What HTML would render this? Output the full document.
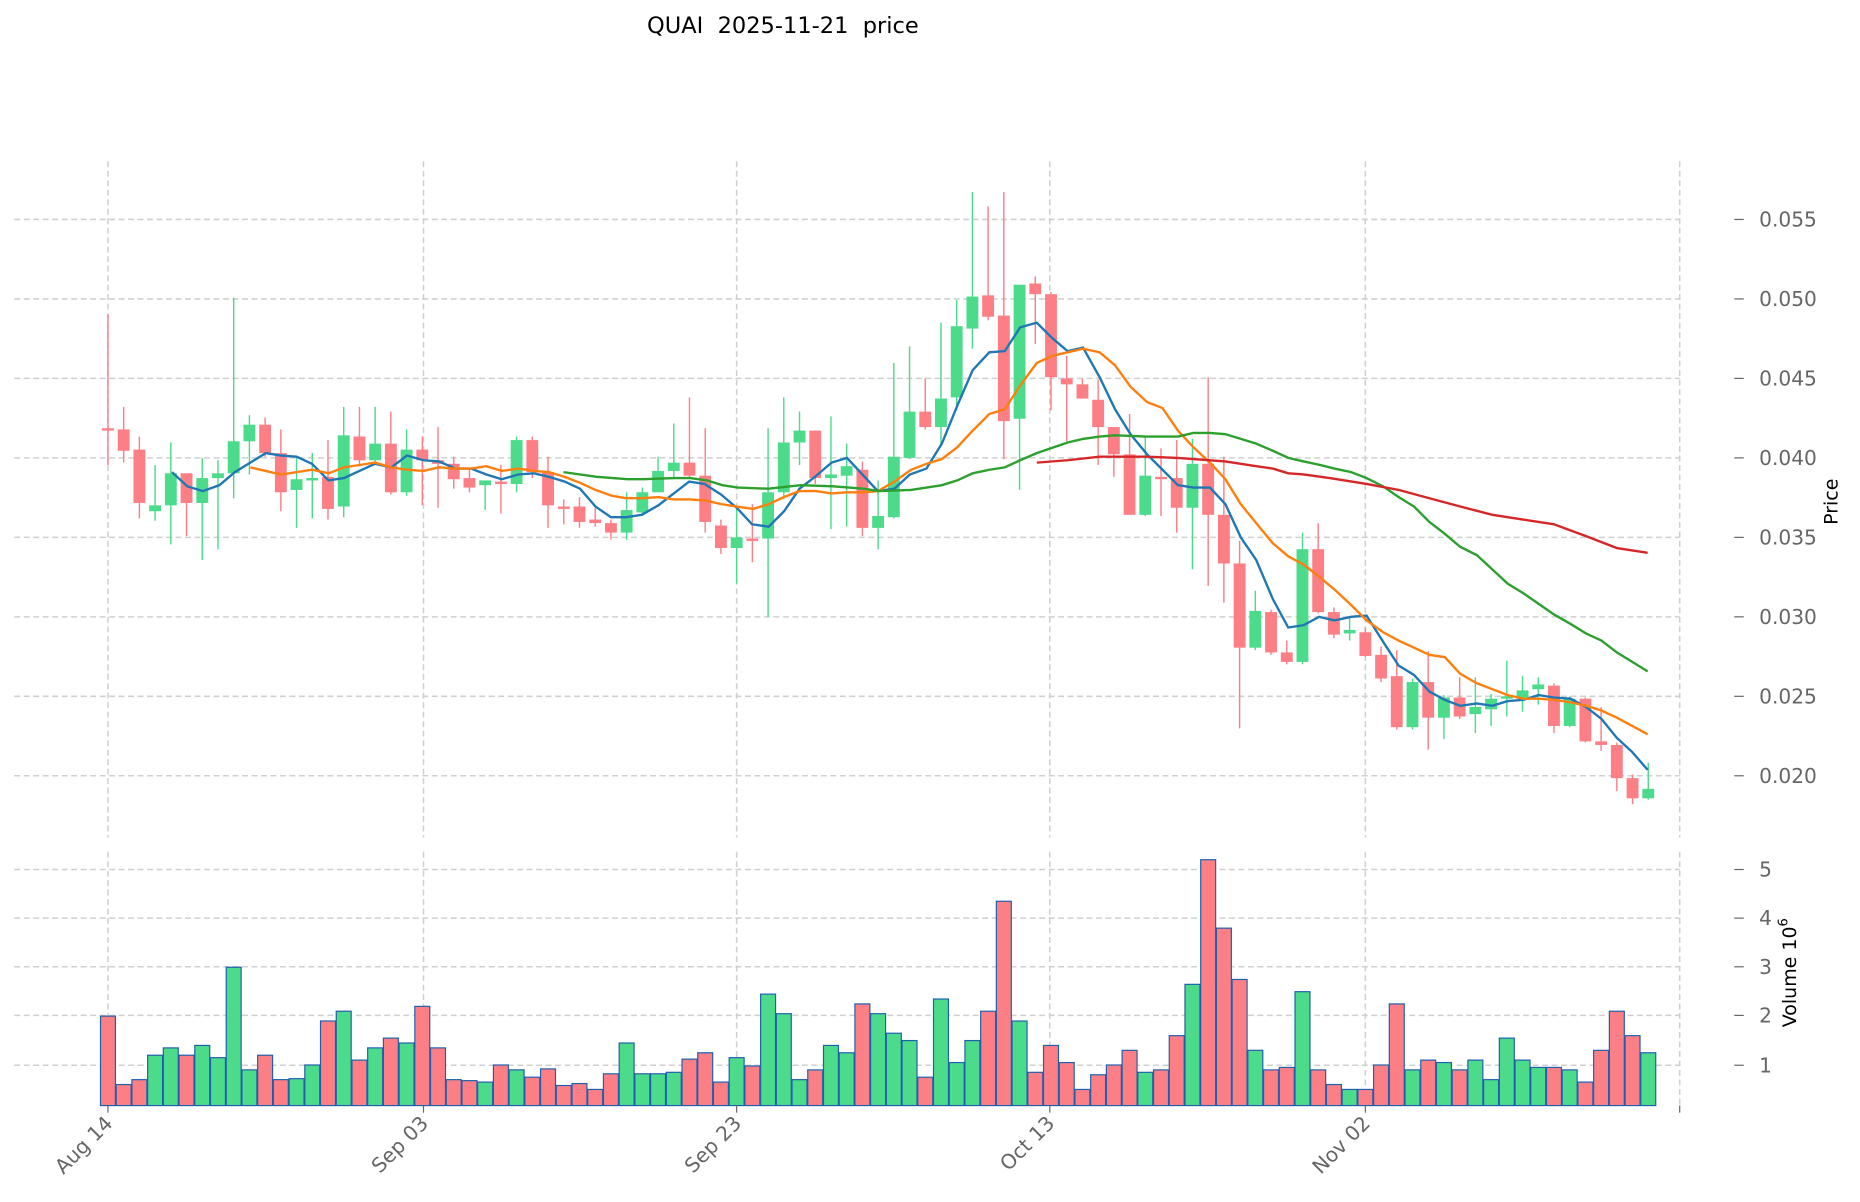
<!DOCTYPE html>
<html><head><meta charset="utf-8"><style>
html,body{margin:0;padding:0;background:#fff;}
svg{display:block;font-family:"DejaVu Sans","Liberation Sans",sans-serif;}
</style></head><body>
<svg id="c" width="1860" height="1202" viewBox="0 0 1568 1013.3" preserveAspectRatio="none" xmlns="http://www.w3.org/2000/svg">
<text x="660" y="28" font-size="19" text-anchor="middle" fill="#000" xml:space="preserve" style="white-space:pre">QUAI  2025-11-21  price</text>
<g id="grid" stroke="#d0d0d0" stroke-width="1.3" stroke-dasharray="5,3" fill="none"></g>
<g id="vol"></g>
<g id="cand"></g>
<g id="ma" fill="none" stroke-width="2"></g>
<g id="ax" font-size="17" fill="#666"></g>
<text transform="translate(1549,423) rotate(-90)" font-size="16" text-anchor="middle" fill="#000">Price</text>
<text transform="translate(1514,820) rotate(-90)" font-size="16" text-anchor="middle" fill="#000">Volume  10<tspan dy="-7" font-size="11">6</tspan></text>
</svg>
<script>
var NS="http://www.w3.org/2000/svg";
function el(p,t,a,txt){var e=document.createElementNS(NS,t);for(var k in a)e.setAttribute(k,a[k]);if(txt!=null)e.textContent=txt;document.getElementById(p).appendChild(e);return e;}
var py={"0.055":185,"0.050":252,"0.045":319,"0.040":386,"0.035":453,"0.030":520,"0.025":587,"0.020":654};
for(var k in py){el("grid","line",{x1:12,x2:1416,y1:py[k],y2:py[k]});el("ax","line",{x1:1462,x2:1470,y1:py[k],y2:py[k],stroke:"#666"});el("ax","text",{x:1483,y:py[k]+6},k);}
var vy={"5":733,"4":774,"3":815,"2":856,"1":898};
for(var k in vy){el("grid","line",{x1:12,x2:1416,y1:vy[k],y2:vy[k]});el("ax","line",{x1:1462,x2:1470,y1:vy[k],y2:vy[k],stroke:"#666"});el("ax","text",{x:1483,y:vy[k]+6},k);}
var xs=[[91,"Aug 14"],[357,"Sep 03"],[621,"Sep 23"],[885,"Oct 13"],[1151,"Nov 02"]];
xs.forEach(function(d){el("grid","line",{x1:d[0],x2:d[0],y1:136,y2:706});el("grid","line",{x1:d[0],x2:d[0],y1:718,y2:932});
el("ax","line",{x1:d[0],x2:d[0],y1:932,y2:938,stroke:"#666"});
el("ax","text",{x:0,y:0,"text-anchor":"end",transform:"translate("+(d[0]+5)+",948) rotate(-45)"},d[1]);});
el("grid","line",{x1:1416,x2:1416,y1:136,y2:706});el("grid","line",{x1:1416,x2:1416,y1:718,y2:932});
el("ax","line",{x1:1416,x2:1416,y1:932,y2:938,stroke:"#666"});
var C=[[361,362,265,392],[362,380,343,390],[379,424,368,437],[431,426,392,439],[426,399,373,459],[399,424,399,452],[424,403,386,472],[403,399,388,463],[399,372,251,420],[372,358,350,400],[358,382,352,385],[382,415,362,431],[413,404,386,445],[404,403,382,437],[402,429,371,438],[427,367,343,436],[368,388,343,393],[388,374,343,390],[374,415,347,417],[415,379,362,418],[379,388,368,426],[388,391,360,428],[391,404,385,412],[403,411,395,415],[409,405,406,430],[406,408,392,433],[408,371,368,415],[371,398,368,403],[398,426,385,445],[427,428,421,442],[427,440,419,445],[438,441,428,444],[441,449,438,455],[449,430,415,455],[432,415,411,435],[415,397,385,415],[397,390,357,404],[390,401,335,402],[401,440,361,449],[443,462,438,467],[462,453,427,492],[454,455,425,474],[454,415,361,520],[415,373,335,421],[373,363,347,392],[363,403,363,408],[403,400,351,446],[401,393,374,444],[396,445,389,452],[445,435,405,463],[436,385,306,437],[386,347,292,387],[347,360,319,362],[360,336,272,376],[335,275,253,346],[277,250,162,294],[249,267,174,270],[266,355,162,387],[353,240,240,413],[239,248,233,290],[248,318,246,346],[319,324,300,372],[324,336,319,336],[337,360,320,392],[360,383,360,402],[383,434,349,434],[434,401,367,435],[402,403,378,435],[403,428,371,449],[428,391,370,480],[391,434,318,494],[434,475,385,508],[475,546,456,614],[546,515,498,548],[516,550,514,552],[550,558,540,560],[558,463,449,560],[463,516,441,517],[516,535,512,538],[534,531,521,540],[533,553,529,554],[552,572,545,575],[570,613,548,615],[613,575,572,615],[575,605,549,632],[605,588,586,623],[588,604,571,606],[602,596,571,618],[598,589,585,612],[589,587,557,604],[589,582,570,600],[581,577,571,594],[578,612,576,618],[612,589,587,613],[589,625,588,626],[625,628,596,633],[628,656,626,667],[656,673,653,678],[673,665,643,674]];
var V=[2.0,0.6,0.7,1.2,1.35,1.2,1.4,1.15,3.0,0.9,1.2,0.7,0.72,1.0,1.9,2.1,1.1,1.35,1.55,1.45,2.2,1.35,0.7,0.68,0.65,1.0,0.9,0.75,0.92,0.58,0.62,0.5,0.82,1.45,0.82,0.82,0.85,1.12,1.25,0.65,1.15,0.98,2.45,2.05,0.7,0.9,1.4,1.25,2.25,2.05,1.65,1.5,0.75,2.35,1.05,1.5,2.1,4.35,1.9,0.85,1.4,1.05,0.5,0.8,1.0,1.3,0.85,0.9,1.6,2.65,5.2,3.8,2.75,1.3,0.9,0.95,2.5,0.9,0.6,0.5,0.5,1.0,2.25,0.9,1.1,1.05,0.9,1.1,0.7,1.55,1.1,0.95,0.95,0.9,0.65,1.3,2.1,1.6,1.25];
var G="#4cdb8a",R="#fc7f86";
C.forEach(function(c,i){var x=91+13.25*i;var up=c[1]<c[0];var col=up?G:R;
var hi=Math.min(c[2],c[0],c[1]),lo=Math.max(c[3],c[0],c[1]);
el("cand","line",{x1:x,x2:x,y1:hi,y2:lo,stroke:col,"stroke-width":1.2});
var t=Math.min(c[0],c[1]),h=Math.max(Math.abs(c[1]-c[0]),2);
el("cand","rect",{x:x-5,y:t,width:10,height:h,fill:col});
var v=V[i]||0;var vh=v*41.2;
el("vol","rect",{x:x-6.3,y:939-vh,width:12.6,height:Math.max(vh-7,0),fill:col,stroke:"#1f5fb0","stroke-width":1});
});
function pl(pts,col){el("ma","polyline",{points:pts,stroke:col});}
pl("145,398 158,410 171,414 185,409 198,398 211,390 224,382 237,384 250,385 263,391 277,405 290,403 303,397 316,391 330,394 343,384 357,388 370,389 384,395 397,395 410,400 423,404 437,400 450,399 463,402 476,406 489,412 502,427 515,436 528,436 541,434 555,426 568,416 581,406 594,408 608,417 621,428 634,442 648,444 661,431 674,412 687,402 701,390 714,386 727,400 740,414 754,412 767,400 781,395 794,374 807,342 820,312 834,297 847,296 860,276 874,272 887,285 900,296 913,293 927,318 940,345 953,366 967,383 980,396 993,409 1006,411 1020,411 1033,425 1046,453 1059,472 1073,505 1086,529 1099,527 1112,520 1125,523 1139,520 1152,519 1166,541 1179,561 1192,569 1205,583 1218,590 1231,595 1245,593 1258,595 1271,591 1284,590 1297,586 1310,588 1324,589 1337,596 1350,606 1363,622 1376,634 1389,649","#1f77b4");
pl("211,394 224,397 237,400 250,398 263,396 277,399 290,394 303,392 316,390 330,394 343,396 357,397 370,394 384,395 397,395 410,393 423,397 437,395 450,397 463,398 476,402 489,407 502,413 516,418 528,420 542,420 555,419 568,421 582,421 595,422 608,425 621,427 635,429 648,425 661,419 674,414 688,414 701,416 714,415 727,415 740,414 754,406 768,396 781,391 794,387 807,377 820,363 834,349 847,345 860,325 874,306 887,300 900,297 913,294 927,297 940,308 953,326 967,339 980,344 993,363 1006,377 1020,390 1033,404 1046,425 1059,441 1073,458 1086,469 1099,476 1113,487 1125,497 1139,510 1152,523 1166,533 1179,540 1192,546 1205,552 1218,554 1231,568 1245,576 1258,581 1271,586 1284,589 1297,589 1310,590 1324,592 1337,595 1350,599 1363,605 1376,612 1389,619","#ff7f0e");
pl("475,398 503,402 529,404 542,404 569,403 582,403 596,405 609,409 622,411 648,412 675,409 702,410 728,412 741,414 768,413 781,411 794,409 807,405 820,399 834,396 847,394 860,388 874,382 900,373 913,370 927,368 940,367 967,368 993,368 1006,365 1020,365 1033,366 1046,370 1059,374 1073,380 1086,386 1099,389 1113,392 1125,395 1139,398 1152,403 1166,410 1179,419 1192,427 1205,440 1218,450 1231,461 1245,468 1258,480 1271,492 1284,500 1297,509 1310,518 1324,526 1337,534 1350,540 1363,550 1376,558 1389,566","#2ca02c");
pl("874,390 900,388 927,385 967,385 993,386 1033,389 1059,393 1073,395 1086,399 1099,400 1121,403 1152,408 1179,413 1205,420 1231,427 1258,434 1284,438 1310,442 1337,452 1363,462 1389,466","#d62728");
</script>
</body></html>
